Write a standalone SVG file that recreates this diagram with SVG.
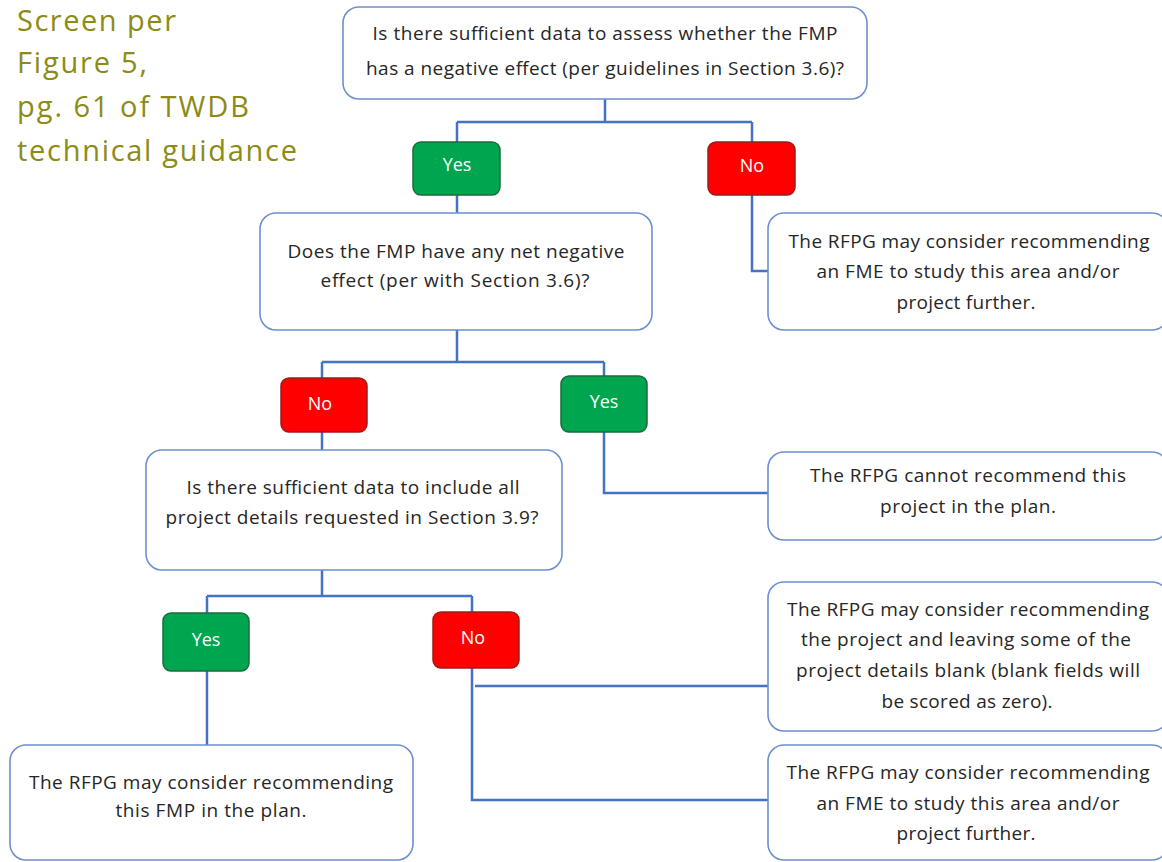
<svg xmlns="http://www.w3.org/2000/svg" width="1162" height="862" viewBox="0 0 1162 862">
<style>
.box{fill:#fff;stroke:#6f8fd0;stroke-width:1.6}
.t{font-family:"Open Sans","Liberation Sans",sans-serif;font-size:19px;fill:#262626;text-anchor:middle}
.yes{fill:#00a64f;stroke:#1d6b3d;stroke-width:1.5}
.no{fill:#ff0000;stroke:#9e1b1b;stroke-width:1.5}
.lbl{font-family:"Open Sans","Liberation Sans",sans-serif;font-size:18px;fill:#fff;text-anchor:middle}
.c{fill:none;stroke:#4472c4;stroke-width:2.5}
.note{font-family:"Open Sans","Liberation Sans",sans-serif;font-size:29px;fill:#8b8b16}
</style>
<rect width="1162" height="862" fill="#fff"/>
<g id="note">
<text class="note" x="17" y="31" textLength="159">Screen per</text>
<text class="note" x="17" y="73" textLength="130">Figure 5,</text>
<text class="note" x="17" y="117" textLength="232">pg. 61 of TWDB</text>
<text class="note" x="17" y="161" textLength="280">technical guidance</text>
</g>
<g id="connectors">
<path class="c" d="M605 99V122M457 122H752M457 122V142M752 122V142"/>
<path class="c" d="M457 195V213"/>
<path class="c" d="M752 195V271H768"/>
<path class="c" d="M457 330V362M322 362H604M322 362V378M604 362V376"/>
<path class="c" d="M322 432V450"/>
<path class="c" d="M604 432V493H768"/>
<path class="c" d="M322 570V596M207 596H472M207 596V613M472 596V612"/>
<path class="c" d="M207 671V745"/>
<path class="c" d="M472 668V800H768"/>
<path class="c" d="M475 686H768"/>
</g>
<g id="q1">
<rect class="box" x="343" y="7" width="524" height="92" rx="16"/>
<text class="t" x="605" y="40" textLength="465">Is there sufficient data to assess whether the FMP</text>
<text class="t" x="605" y="75" textLength="478">has a negative effect (per guidelines in Section 3.6)?</text>
</g>
<g id="yes1">
<rect class="yes" x="413" y="142" width="87" height="53" rx="8"/>
<text class="lbl" x="457" y="171">Yes</text>
</g>
<g id="no1">
<rect class="no" x="708" y="142" width="87" height="53" rx="8"/>
<text class="lbl" x="752" y="172">No</text>
</g>
<g id="q2">
<rect class="box" x="260" y="213" width="392" height="117" rx="16"/>
<text class="t" x="456" y="258" textLength="337">Does the FMP have any net negative</text>
<text class="t" x="455" y="287" textLength="269">effect (per with Section 3.6)?</text>
</g>
<g id="fme1">
<rect class="box" x="768" y="213" width="400" height="117" rx="16"/>
<text class="t" x="969" y="248" textLength="361">The RFPG may consider recommending</text>
<text class="t" x="968" y="278" textLength="303">an FME to study this area and/or</text>
<text class="t" x="966" y="309" textLength="139">project further.</text>
</g>
<g id="no2">
<rect class="no" x="281" y="378" width="86" height="54" rx="8"/>
<text class="lbl" x="320" y="410">No</text>
</g>
<g id="yes2">
<rect class="yes" x="561" y="376" width="86" height="56" rx="8"/>
<text class="lbl" x="604" y="408">Yes</text>
</g>
<g id="q3">
<rect class="box" x="146" y="450" width="416" height="120" rx="16"/>
<text class="t" x="353" y="494" textLength="333">Is there sufficient data to include all</text>
<text class="t" x="352" y="524" textLength="373">project details requested in Section 3.9?</text>
</g>
<g id="cannot">
<rect class="box" x="768" y="452" width="400" height="88" rx="16"/>
<text class="t" x="968" y="482" textLength="316">The RFPG cannot recommend this</text>
<text class="t" x="968" y="513" textLength="176">project in the plan.</text>
</g>
<g id="yes3">
<rect class="yes" x="163" y="613" width="86" height="58" rx="8"/>
<text class="lbl" x="206" y="646">Yes</text>
</g>
<g id="no3">
<rect class="no" x="433" y="612" width="86" height="56" rx="8"/>
<text class="lbl" x="473" y="644">No</text>
</g>
<g id="blank">
<rect class="box" x="768" y="582" width="400" height="149" rx="16"/>
<text class="t" x="968" y="616" textLength="362">The RFPG may consider recommending</text>
<text class="t" x="966" y="646" textLength="330">the project and leaving some of the</text>
<text class="t" x="968" y="677" textLength="344">project details blank (blank fields will</text>
<text class="t" x="967" y="708" textLength="171">be scored as zero).</text>
</g>
<g id="recommend">
<rect class="box" x="10" y="745" width="403" height="115" rx="16"/>
<text class="t" x="211" y="789" textLength="364">The RFPG may consider recommending</text>
<text class="t" x="211" y="817" textLength="191">this FMP in the plan.</text>
</g>
<g id="fme2">
<rect class="box" x="768" y="745" width="400" height="115" rx="16"/>
<text class="t" x="968" y="779" textLength="363">The RFPG may consider recommending</text>
<text class="t" x="968" y="810" textLength="303">an FME to study this area and/or</text>
<text class="t" x="966" y="840" textLength="139">project further.</text>
</g>
</svg>
